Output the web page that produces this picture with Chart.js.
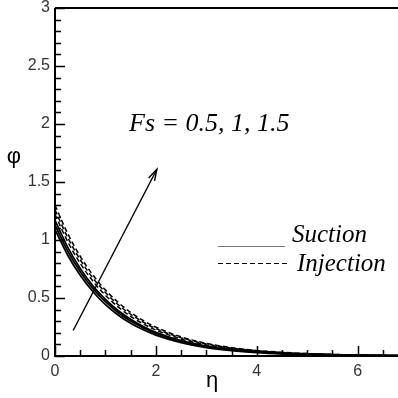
<html>
<body style="margin:0;background:#fff">
<div style="width:398px;height:398px"><canvas id="myChart" width="398" height="398"></canvas></div>
<script src="https://cdn.jsdelivr.net/npm/chart.js"></script>
<script>
    // eta grid and profiles
    const eta = [0, 0.25, 0.5, 0.75, 1, 1.25, 1.5, 1.75, 2, 2.5, 3, 3.5, 4, 4.5, 5, 5.5, 6, 6.8];
    const suction1 = [1.09, 0.871, 0.696, 0.556, 0.443, 0.354, 0.283, 0.226, 0.180, 0.115, 0.073, 0.047, 0.030, 0.019, 0.012, 0.008, 0.005, 0.002];
    const suction2 = [1.13, 0.906, 0.727, 0.583, 0.468, 0.375, 0.301, 0.242, 0.194, 0.125, 0.080, 0.052, 0.033, 0.021, 0.014, 0.009, 0.006, 0.002];
    const suction3 = [1.17, 0.939, 0.755, 0.606, 0.488, 0.392, 0.316, 0.254, 0.204, 0.132, 0.086, 0.055, 0.036, 0.023, 0.015, 0.010, 0.006, 0.002];
    const injection1 = [1.22, 0.987, 0.798, 0.646, 0.523, 0.423, 0.342, 0.277, 0.224, 0.147, 0.096, 0.063, 0.042, 0.027, 0.018, 0.012, 0.008, 0.004];
    const injection2 = [1.26, 1.023, 0.830, 0.673, 0.547, 0.443, 0.360, 0.292, 0.237, 0.156, 0.104, 0.068, 0.045, 0.030, 0.020, 0.013, 0.009, 0.004];
    const injection3 = [1.30, 1.057, 0.860, 0.699, 0.569, 0.463, 0.376, 0.306, 0.249, 0.165, 0.109, 0.072, 0.048, 0.032, 0.021, 0.014, 0.009, 0.004];
    const arrowX = [0.36, 2.02];
    const arrowY = [0.22, 1.61];
    const xTicks = [0, 2, 4, 6];
    const yTicks = [0, 0.5, 1, 1.5, 2, 2.5, 3];
    const annotation = "Fs = 0.5, 1, 1.5";
    const legendLabels = ["Suction", "Injection"];

    const pts = (xs, ys) => xs.map((x, i) => ({x: x, y: ys[i]}));
    const solid = (ys) => ({data: pts(eta, ys), borderColor: "#000", borderWidth: 1.8, pointRadius: 0, cubicInterpolationMode: "monotone", fill: false});
    const dashed = (ys) => ({data: pts(eta, ys), borderColor: "#000", borderWidth: 1.5, borderDash: [5, 3], pointRadius: 0, cubicInterpolationMode: "monotone", fill: false});

    // inward ticks, frame, arrowhead and texts
    const extras = {
        id: "extras",
        afterDraw(chart) {
            const ctx = chart.ctx;
            const xs = chart.scales.x, ys = chart.scales.y;
            const a = chart.chartArea;
            ctx.save();
            ctx.setLineDash([]);
            ctx.strokeStyle = "#000";
            ctx.lineWidth = 1.5;
            ctx.beginPath();
            for (let i = 0; i <= 13; i++) {
                const px = Math.round(xs.getPixelForValue(i / 2)) + 0.5;
                const len = i % 4 === 0 ? 10 : 6;
                ctx.moveTo(px, a.bottom);
                ctx.lineTo(px, a.bottom - len);
            }
            for (let i = 0; i <= 30; i++) {
                const py = Math.round(ys.getPixelForValue(i / 10)) + 0.5;
                const len = i % 5 === 0 ? 10 : 6;
                ctx.moveTo(a.left, py);
                ctx.lineTo(a.left + len, py);
            }
            ctx.stroke();
            ctx.lineWidth = 2;
            ctx.beginPath(); ctx.moveTo(a.left, a.top); ctx.lineTo(a.right, a.top); ctx.stroke();
            ctx.beginPath(); ctx.moveTo(a.left, a.top); ctx.lineTo(a.left, a.bottom); ctx.lineTo(a.right, a.bottom); ctx.stroke();

            // arrowhead
            const x0 = xs.getPixelForValue(arrowX[0]), y0 = ys.getPixelForValue(arrowY[0]);
            const x1 = xs.getPixelForValue(arrowX[1]), y1 = ys.getPixelForValue(arrowY[1]);
            const ang = Math.atan2(y1 - y0, x1 - x0);
            ctx.lineWidth = 1.4;
            ctx.beginPath();
            ctx.moveTo(x1 - 12 * Math.cos(ang - 0.28), y1 - 12 * Math.sin(ang - 0.28));
            ctx.lineTo(x1, y1);
            ctx.lineTo(x1 - 12 * Math.cos(ang + 0.28), y1 - 12 * Math.sin(ang + 0.28));
            ctx.stroke();

            ctx.fillStyle = "#000";
            ctx.font = "italic 26px 'Liberation Serif'";
            ctx.textBaseline = "middle";
            ctx.textAlign = "left";
            ctx.fillText(annotation, 129, 124);

            ctx.font = "italic 25px 'Liberation Serif'";
            ctx.fillText(legendLabels[0], 292, 235);
            ctx.fillText(legendLabels[1], 297, 264);
            ctx.strokeStyle = "#777";
            ctx.lineWidth = 1.2;
            ctx.beginPath(); ctx.moveTo(218, 246.5); ctx.lineTo(285, 246.5); ctx.stroke();
            ctx.strokeStyle = "#000";
            ctx.setLineDash([5, 3]);
            ctx.beginPath(); ctx.moveTo(218, 263.5); ctx.lineTo(289, 263.5); ctx.stroke();
            ctx.setLineDash([]);

            ctx.font = "22px 'Liberation Sans'";
            ctx.textAlign = "center";
            ctx.fillText("\u03c6", 14, 157);
            ctx.fillText("\u03b7", 212, 381);
            ctx.restore();
        }
    };

    new Chart("myChart", {
        type: "line",
        data: {
            datasets: [
                solid(suction1), solid(suction2), solid(suction3),
                dashed(injection1), dashed(injection2), dashed(injection3),
                {data: pts(arrowX, arrowY), borderColor: "#000", borderWidth: 1.4, pointRadius: 0, fill: false}
            ]
        },
        options: {
            responsive: false,
            animation: false,
            layout: {padding: {top: 8, right: 0, left: 0, bottom: 0}},
            plugins: {legend: {display: false}, tooltip: {enabled: false}},
            scales: {
                x: {
                    type: "linear", min: 0, max: 6.8,
                    afterFit: (s) => { s.height = 42; s.paddingLeft = 0; s.paddingRight = 0; },
                    afterBuildTicks: (s) => { s.ticks = xTicks.map(v => ({value: v})); },
                    grid: {display: false, drawTicks: false},
                    border: {display: false},
                    ticks: {color: "#333", padding: 6, font: {family: "'Liberation Sans'", size: 16},
                        callback: (v) => String(v)}
                },
                y: {
                    type: "linear", min: 0, max: 3,
                    afterFit: (s) => { s.width = 55; s.paddingTop = 0; s.paddingBottom = 0; },
                    afterBuildTicks: (s) => { s.ticks = yTicks.map(v => ({value: v})); },
                    grid: {display: false, drawTicks: false},
                    border: {display: false},
                    ticks: {color: "#333", padding: 5, font: {family: "'Liberation Sans'", size: 16},
                        callback: (v) => String(v)}
                }
            }
        },
        plugins: [extras]
    });
</script>
</body>
</html>
